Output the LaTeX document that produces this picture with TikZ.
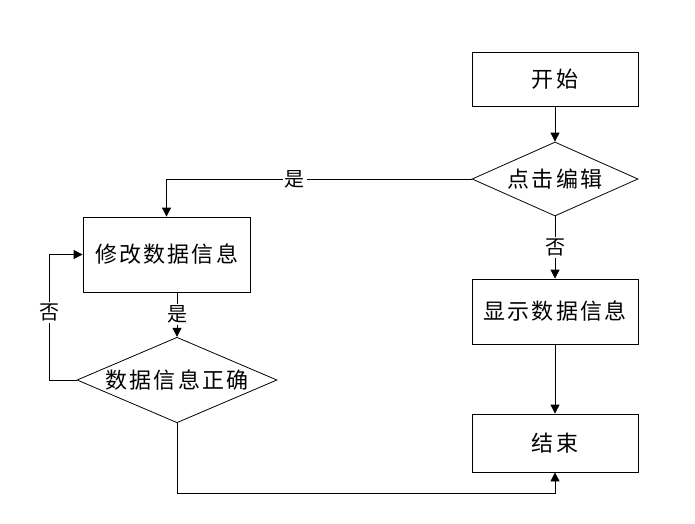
\documentclass[tikz,border=0pt]{standalone}
\usepackage{fontspec}
\newfontfamily\cjk[LetterSpace=10]{Noto Sans CJK SC}
\usetikzlibrary{shapes.geometric,arrows.meta}
\tikzset{
  box/.style={draw, line width=.8pt, minimum width=166pt, minimum height=56pt,
    inner sep=0pt, font=\cjk\fontsize{22}{26}\selectfont},
  decision/.style={draw, diamond, line width=.8pt, inner sep=0pt, aspect=2.2,
    font=\cjk\fontsize{22}{26}\selectfont},
  lbl/.style={fill=white, inner sep=2pt, font=\cjk\fontsize{20}{22}\selectfont},
  flow/.style={line width=.8pt, -{Triangle[length=9pt,width=9pt]}}
}
\begin{document}
\begin{tikzpicture}[x=1pt,y=-1pt]
\useasboundingbox (0,0) rectangle (695,523);
% Right column
\node[box, minimum height=54pt] (start) at (555,79) {开始};
\node[decision, minimum width=166pt, minimum height=74pt] (click) at (555,179) {点击编辑};
\node[box, minimum height=65pt] (show) at (555,311.5) {显示数据信息};
\node[box, minimum height=58pt] (end) at (555,443) {结束};
% Left column
\node[box, minimum width=167pt, minimum height=75pt] (modify) at (166.5,254.5) {修改数据信息};
\node[decision, minimum width=200pt, minimum height=81pt] (check) at (177,380) {数据信息正确};
% Arrows
\draw[flow] (start) -- (click);
\draw[flow] (click.west) -| node[lbl, pos=.29] {是} (modify.north);
\draw[flow] (click.south) -- node[lbl] {否} (show.north);
\draw[flow] (show) -- (end);
\draw[flow] (check.north |- modify.south) -- node[lbl] {是} (check.north);
\draw[flow] (check.west) -- ++(-27,0) |- node[lbl, pos=.27] {否} (modify.west);
\draw[flow] (check.south) -- ++(0,70) -| (end.south);
\end{tikzpicture}
\end{document}
